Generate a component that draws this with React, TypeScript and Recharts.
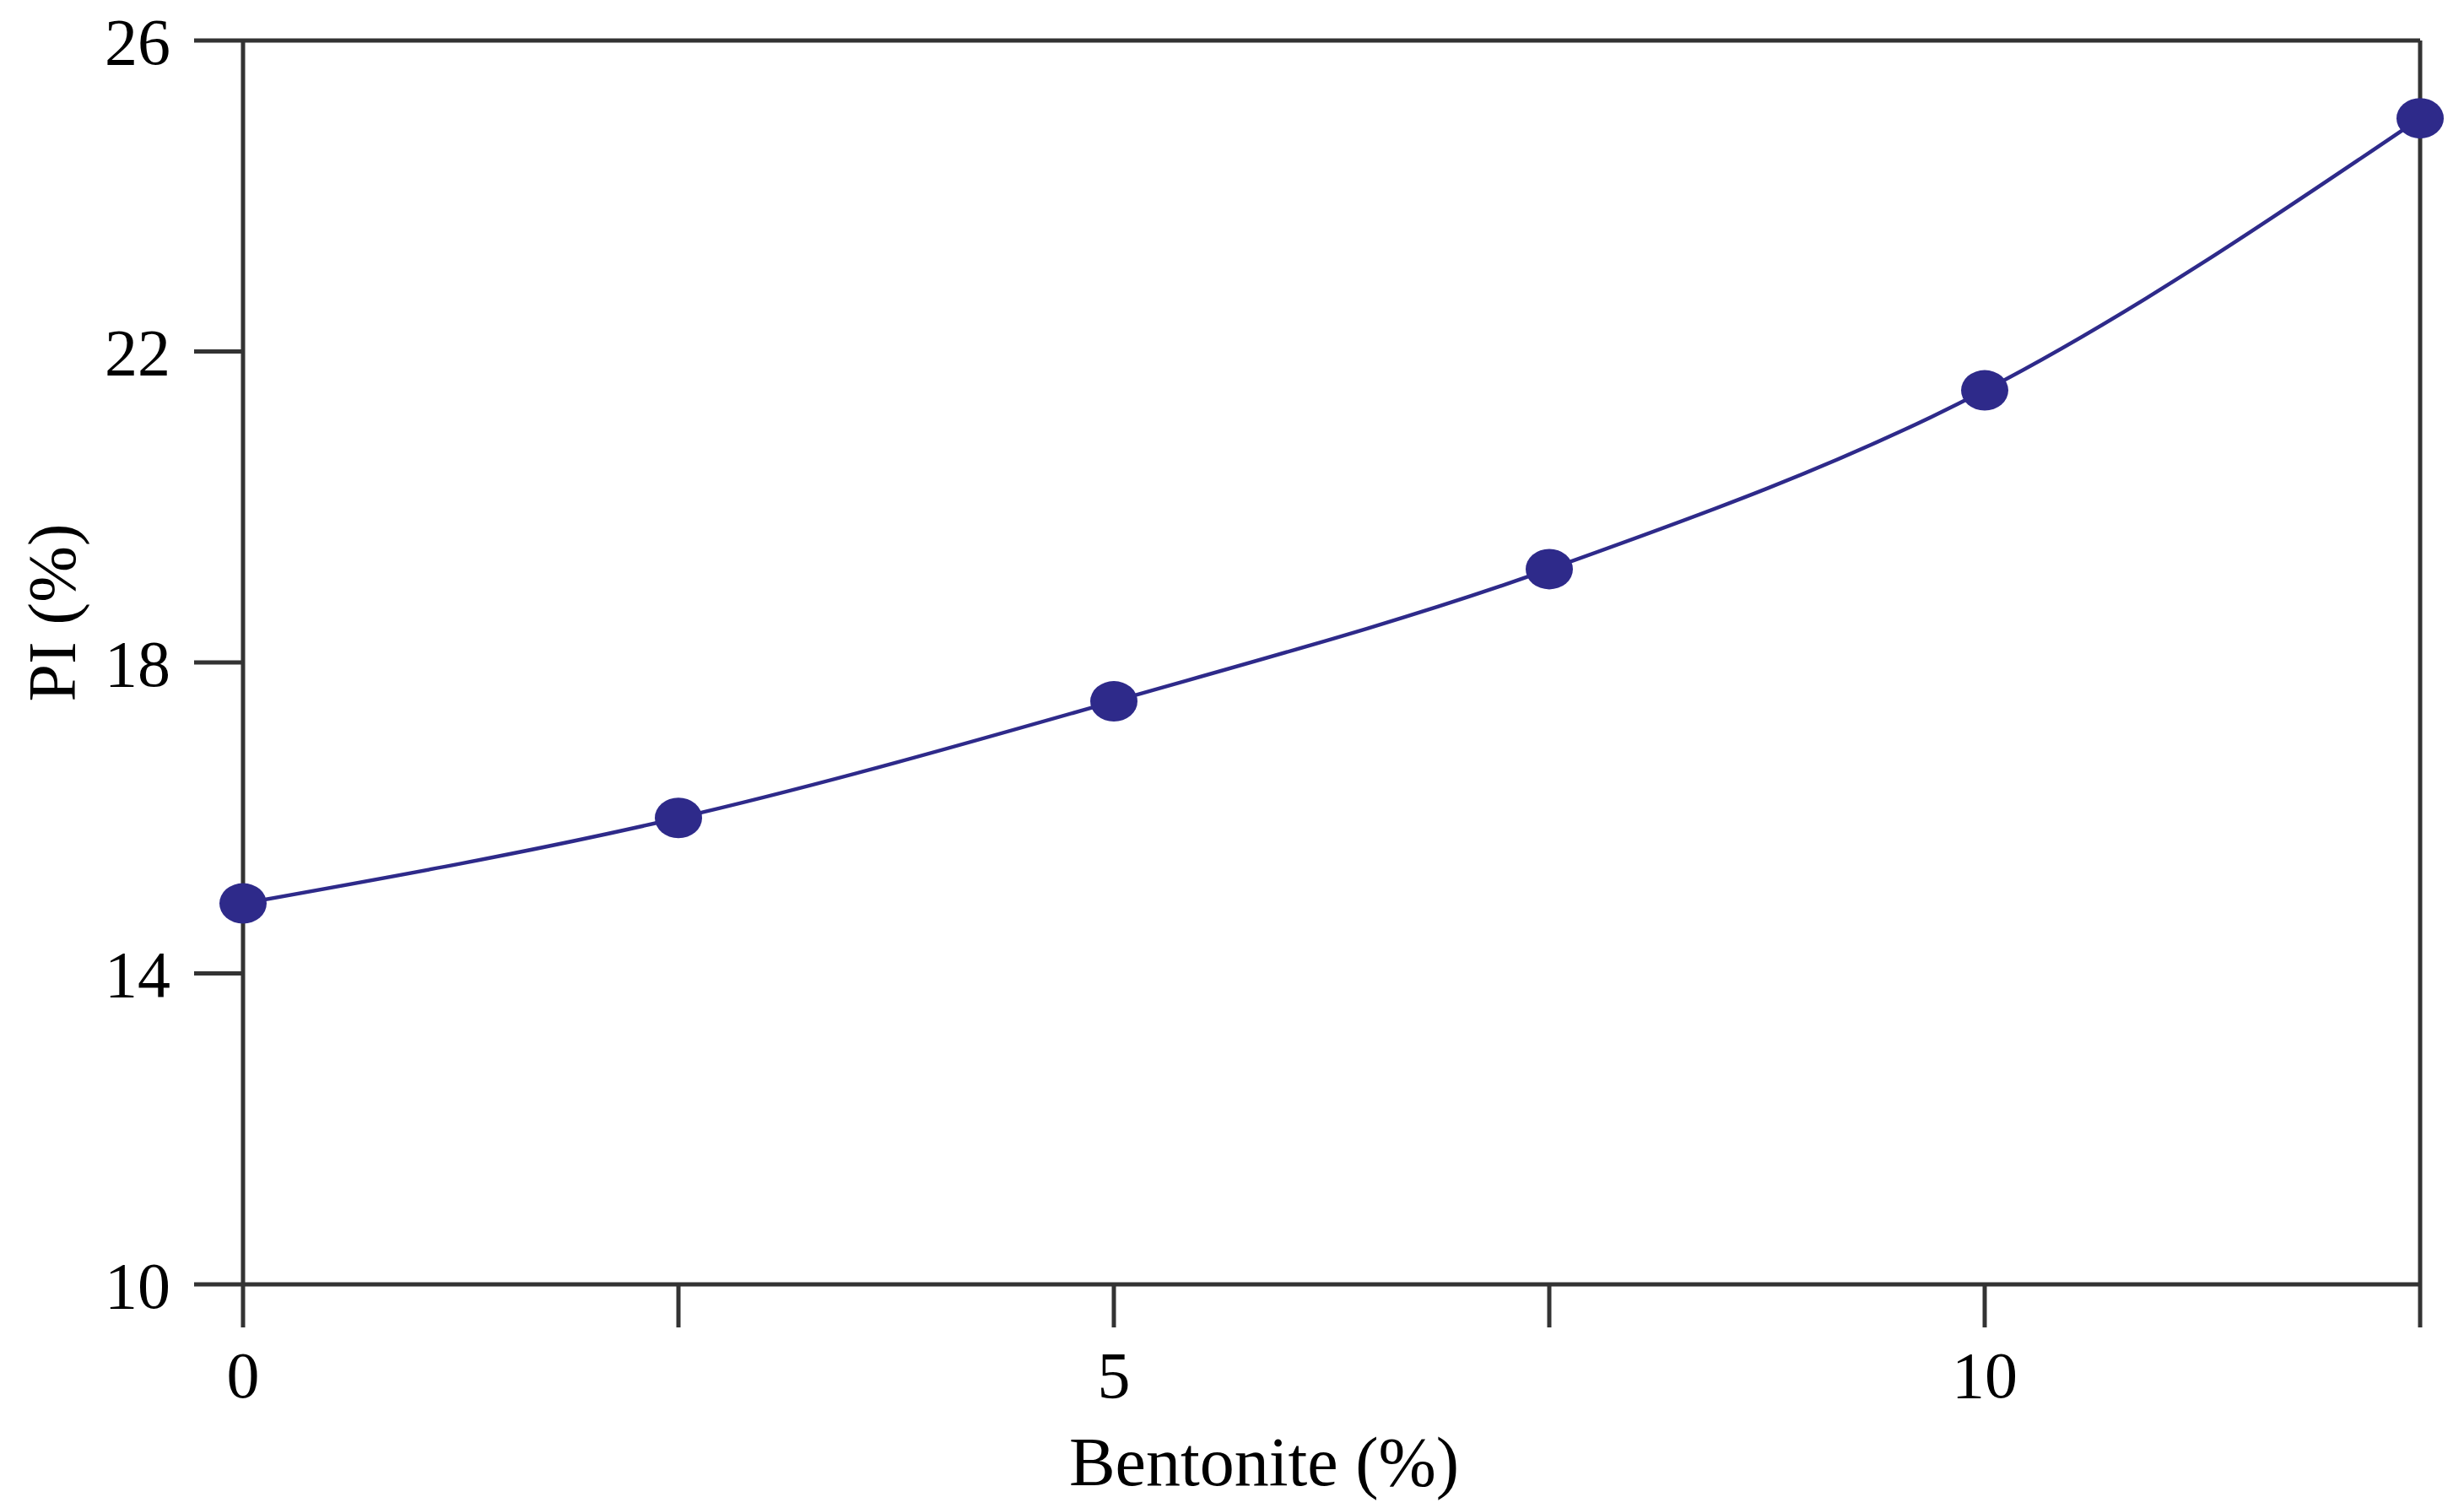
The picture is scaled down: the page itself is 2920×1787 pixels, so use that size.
import { LineChart, Line, XAxis, YAxis, ReferenceLine, Label } from 'recharts';

// bentonite content (%) vs plasticity index (%)
const bentonite = [0, 2.5, 5, 7.5, 10, 12.5];
const plasticity = [14.9, 16.0, 17.5, 19.2, 21.5, 25.0];

const xTicks = [0, 2.5, 5, 7.5, 10, 12.5];
const xLabelled = [0, 5, 10];
const yTicks = [10, 14, 18, 22, 26];

const data = bentonite.map((b, i) => ({ bentonite: b, pi: plasticity[i] }));

const INK = '#333333';
const SERIES = '#2e2a8a';
const FONT = '"Liberation Serif", "Times New Roman", serif';

// the points in the figure are slightly flattened ellipses
function Marker(props: any) {
  const { cx, cy, index } = props;
  if (cx == null || cy == null) return null;
  return <ellipse key={index} cx={cx} cy={cy} rx={28} ry={24} fill={SERIES} />;
}

export default function App() {
  return (
    <div style={{ position: 'absolute', left: 0, top: 0, width: 2920, height: 1787, background: '#fff' }}>
      <LineChart
        width={2920}
        height={1787}
        data={data}
        margin={{ top: 48, right: 52, bottom: 264, left: 287 }}
      >
        <XAxis
          dataKey="bentonite"
          type="number"
          domain={[0, 12.5]}
          ticks={xTicks}
          interval={0}
          height={1}
          tickSize={51}
          tickMargin={28}
          tickFormatter={(v: number) => (xLabelled.includes(v) ? String(v) : '')}
          axisLine={{ stroke: INK, strokeWidth: 5 }}
          tickLine={{ stroke: INK, strokeWidth: 5 }}
          tick={{ fontSize: 78, fontFamily: FONT, fill: '#000' }}
        >
          <Label
            content={({ viewBox }: any) => (
              <text
                x={viewBox.x + viewBox.width * 0.469}
                y={viewBox.y + 238}
                textAnchor="middle"
                fontSize={82}
                fontFamily={FONT}
                fill="#000"
              >
                Bentonite (%)
              </text>
            )}
          />
        </XAxis>
        <YAxis
          type="number"
          domain={[10, 26]}
          ticks={yTicks}
          interval={0}
          width={1}
          tickSize={58}
          tickMargin={28}
          axisLine={{ stroke: INK, strokeWidth: 5 }}
          tickLine={{ stroke: INK, strokeWidth: 5 }}
          tick={{ fontSize: 78, fontFamily: FONT, fill: '#000' }}
        >
          <Label
            content={({ viewBox }: any) => {
              const x = viewBox.x - 198;
              const y = viewBox.y + viewBox.height / 2 - 59;
              return (
                <text
                  x={x}
                  y={y}
                  textAnchor="middle"
                  fontSize={80}
                  fontFamily={FONT}
                  fill="#000"
                  transform={`rotate(-90 ${x} ${y})`}
                >
                  PI (%)
                </text>
              );
            }}
          />
        </YAxis>
        <ReferenceLine y={26} stroke={INK} strokeWidth={5} />
        <ReferenceLine x={12.5} stroke={INK} strokeWidth={5} />
        <Line
          type="monotone"
          dataKey="pi"
          stroke={SERIES}
          strokeWidth={4.5}
          dot={<Marker />}
          activeDot={false}
          isAnimationActive={false}
        />
      </LineChart>
    </div>
  );
}
